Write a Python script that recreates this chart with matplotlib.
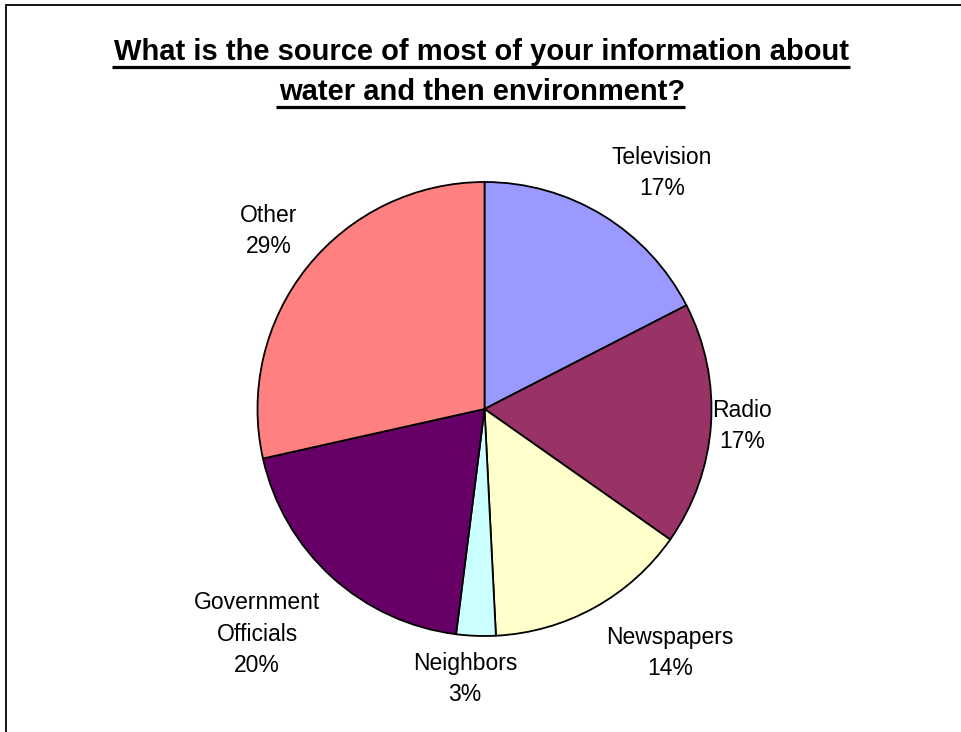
import matplotlib
matplotlib.use("Agg")
import matplotlib.pyplot as plt
from matplotlib.patches import Rectangle
from matplotlib.lines import Line2D

categories = ["Television", "Radio", "Newspapers", "Neighbors", "Government\nOfficials", "Other"]
shares = [17.45, 17.3, 14.45, 2.8, 19.5, 28.5]
colors = ["#9999FF", "#993366", "#FFFFCC", "#CCFFFF", "#660066", "#FF8080"]
title_lines = ["What is the source of most of your information about",
               "water and then environment?"]

W, H, DPI = 961, 732, 100
fig = plt.figure(figsize=(W / DPI, H / DPI), dpi=DPI)
fig.patch.set_facecolor("white")

# pie geometry (pixels)
cx, cy, r = 484.5, 409.0, 227.0
span = 1.5
ax = fig.add_axes([(cx - span * r) / W, (H - cy - span * r) / H, 2 * span * r / W, 2 * span * r / H])
ax.axis("off")

ax.pie(shares, colors=colors, startangle=90, counterclock=False, radius=1.0,
       wedgeprops=dict(edgecolor="black", linewidth=1.3), frame=False)
ax.set_xlim(-span, span)
ax.set_ylim(-span, span)

# label anchors in pixels: (center x, last-line baseline y)
label_px = [(662, 195), (742, 448), (670, 675), (465, 701), (257, 672), (269, 253)]
total = sum(shares)
for cat, val, (px, py) in zip(categories, shares, label_px):
    pct = int(round(val / total * 100, 6) + 0.5)
    ax.text((px - cx) / r, (cy - py) / r, f"{cat}\n{pct}%", ha="center", va="baseline",
            fontsize=16.5, family="Liberation Sans", linespacing=1.47, color="black")

# title with underline
title_cx = 482
title_base = [60, 100]
underline_y = [67, 106.5]
texts = []
for line, y in zip(title_lines, title_base):
    t = fig.text(title_cx / W, 1 - y / H, line, ha="center", va="baseline", fontsize=21,
                 fontweight="bold", family="Liberation Sans", color="black")
    texts.append(t)

fig.canvas.draw()
renderer = fig.canvas.get_renderer()
for t, uy in zip(texts, underline_y):
    bb = t.get_window_extent(renderer)
    fig.add_artist(Line2D([(bb.x0 - 3) / W, bb.x1 / W], [1 - uy / H, 1 - uy / H],
                          transform=fig.transFigure, color="black", linewidth=2.3,
                          solid_capstyle="butt"))

# outer border (runs off the right and bottom edges)
fig.add_artist(Rectangle((6 / W, -0.05), 1.2, 1 - 5 / H + 0.05, transform=fig.transFigure,
                         fill=False, edgecolor="black", linewidth=1.3))

fig.savefig("out.png", dpi=DPI, facecolor="white")
